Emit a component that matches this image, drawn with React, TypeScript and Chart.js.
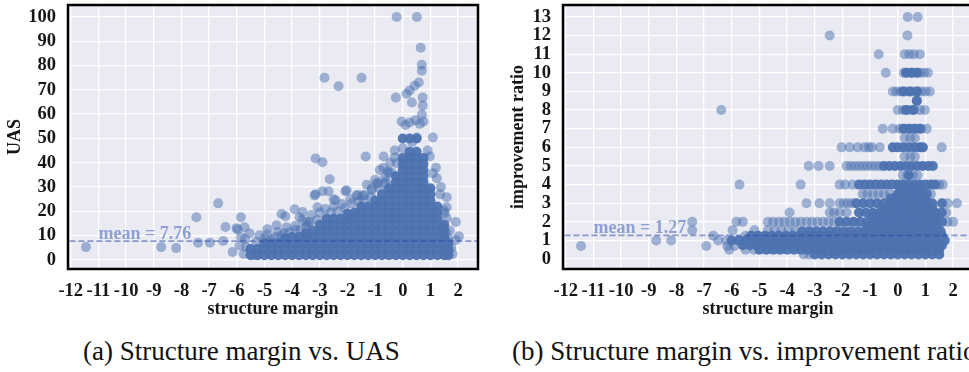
import React, { useEffect, useRef } from "react";
import { Chart, registerables } from "chart.js";

Chart.register(...registerables);

// ---------------- data ----------------
const marginTicks = [-12, -11, -10, -9, -8, -7, -6, -5, -4, -3, -2, -1, 0, 1, 2];
const uasTicks = [0, 10, 20, 30, 40, 50, 60, 70, 80, 90, 100];
const ratioTicks = [0, 1, 2, 3, 4, 5, 6, 7, 8, 9, 10, 11, 12, 13];

const uasMean = 7.76;
const ratioMean = 1.27;

// structure margin vs UAS: scattered (individually visible) points [x, y]
const uasSparse: [number, number][] = [
  [-11.45, 5.3], [-8.73, 5.3], [-8.19, 4.9], [-7.46, 17.6], [-7.4, 7.1], [-6.97, 7.1],
  [-6.67, 23.3], [-6.49, 7.8], [-6.41, 13.6], [-6.15, 3.3], [-6.01, 13.1], [-5.97, 12.6],
  [-5.85, 17.6], [-5.85, 9.4], [-5.72, 13.5], [-5.7, 8.6], [-5.66, 5.3], [-5.54, 11],
  [-5.36, 2], [-5.18, 10.2], [-4.89, 12.7], [-4.56, 14.3], [-4.53, 11.5], [-4.38, 18.9],
  [-4.24, 18], [-4.2, 13.5], [-3.91, 20.9], [-3.88, 12.3], [-3.73, 17.6], [-3.62, 19.7],
  [-3.62, 16.4], [-3.48, 15.6], [-3.37, 15.6], [-3.19, 26.6], [-3.15, 41.8], [-2.9, 40.2],
  [-2.64, 33.2], [-3.15, 27], [-2.9, 28.3], [-2.68, 28.3], [-3.08, 21.7], [-2.5, 25],
  [-2.43, 24.6], [-2.07, 28.3], [-1.85, 23.3], [-1.63, 26.6], [-1.38, 26.6], [-1.12, 28.7],
  [-0.94, 31.6], [-0.65, 34], [-0.51, 36], [-1.34, 42.6], [-0.69, 42.6], [-0.83, 37],
  [-0.54, 36.5], [-2.32, 71.5], [-2.83, 75], [-1.49, 75], [-0.22, 100], [0.51, 100],
  [0.65, 87.3], [0.69, 80.3], [0.69, 77.9], [0.58, 73], [0.43, 71.7], [0.25, 69.7],
  [0.14, 68.4], [-0.25, 66.8], [0.72, 66.8], [0.33, 64.8], [0.72, 63.5], [0.69, 59.8],
  [-0.04, 57], [0.25, 56.6], [0.62, 56], [0.1, 55.5], [0.45, 57.5], [0.75, 57],
  [1.09, 50.4], [0.98, 42.6], [1.09, 35.7], [1.23, 33.6], [1.38, 30], [1.59, 25.8],
  [1.49, 20.5], [1.59, 21.7], [1.92, 15.6], [1.59, 17.2], [1.52, 19.3], [1.45, 13.5],
  [1.56, 11.5], [2.03, 9.8], [1.92, 8.2], [1.63, 9], [-0.29, 45], [-0.29, 42.2],
  [-0.22, 39.8], [0, 46], [0.33, 48.4], [0.51, 50.4], [0.25, 43], [-2.03, 28.7],
  [-1.67, 26.6], [-1.45, 26.6], [-1.12, 29.5], [-0.9, 31.6], [-0.65, 31.6],
  [-5.3, 7.5], [-5, 9], [-4.75, 8.5], [-4.4, 10], [-4.1, 11.5], [-3.9, 14], [-3.5, 13.5],
  [-3.3, 18.5], [-3, 19.5], [-2.8, 21], [-2.5, 22], [-2.2, 23], [-1.9, 25], [-1.3, 31],
  [-1, 33], [-0.7, 38], [-0.45, 40], [0.9, 45], [1.2, 38], [1.35, 27], [1.7, 12],
  [1.75, 5], [1.8, 2.5], [-5.75, 2.5], [-5.9, 6], [-4.9, 10.5], [-4.6, 9.5], [-4.3, 11],
  [-3.7, 12.5], [-3.4, 14.5], [-3.1, 16.5], [-2.6, 19.5], [-2.35, 20], [-2.1, 21.5],
  [-1.6, 24], [-1.4, 24.5], [-1.15, 26], [-0.85, 29.5], [-0.6, 32.5], [-0.4, 36],
];

// dense (saturated) region of the UAS panel: [x, y values at that x]
const uasCoreColumns: [number, number[]][] = [
  [-5.5, [2, 4.5]],
  [-5.25, [2, 4.5]],
  [-5, [2, 4.5, 7]],
  [-4.75, [2, 4.5, 7]],
  [-4.5, [2, 4.5, 7]],
  [-4.25, [2, 4.5, 7, 9]],
  [-4, [2, 4.5, 7, 9.5]],
  [-3.75, [2, 4.5, 7, 9.5]],
  [-3.5, [2, 4.5, 7, 9.5, 11]],
  [-3.25, [2, 4.5, 7, 9.5, 12]],
  [-3, [2, 4.5, 7, 9.5, 12, 14.5]],
  [-2.75, [2, 4.5, 7, 9.5, 12, 14.5, 17]],
  [-2.5, [2, 4.5, 7, 9.5, 12, 14.5, 17]],
  [-2.25, [2, 4.5, 7, 9.5, 12, 14.5, 17]],
  [-2, [2, 4.5, 7, 9.5, 12, 14.5, 17, 19]],
  [-1.75, [2, 4.5, 7, 9.5, 12, 14.5, 17, 19.5]],
  [-1.5, [2, 4.5, 7, 9.5, 12, 14.5, 17, 19.5, 22]],
  [-1.25, [2, 4.5, 7, 9.5, 12, 14.5, 17, 19.5, 22]],
  [-1, [2, 4.5, 7, 9.5, 12, 14.5, 17, 19.5, 22, 24.5]],
  [-0.75, [2, 4.5, 7, 9.5, 12, 14.5, 17, 19.5, 22, 24.5, 27]],
  [-0.5, [2, 4.5, 7, 9.5, 12, 14.5, 17, 19.5, 22, 24.5, 27, 29.5]],
  [-0.25, [2, 4.5, 7, 9.5, 12, 14.5, 17, 19.5, 22, 24.5, 27, 29.5, 32, 34.5]],
  [0, [2, 4.5, 7, 9.5, 12, 14.5, 17, 19.5, 22, 24.5, 27, 29.5, 32, 34.5, 37, 39.5, 42, 50]],
  [0.25, [2, 4.5, 7, 9.5, 12, 14.5, 17, 19.5, 22, 24.5, 27, 29.5, 32, 34.5, 37, 39.5, 42, 44.5, 50]],
  [0.5, [2, 4.5, 7, 9.5, 12, 14.5, 17, 19.5, 22, 24.5, 27, 29.5, 32, 34.5, 37, 39.5, 42, 44.5, 50]],
  [0.75, [2, 4.5, 7, 9.5, 12, 14.5, 17, 19.5, 22, 24.5, 27, 29.5, 32, 34.5, 37, 39.5, 42]],
  [1, [2, 4.5, 7, 9.5, 12, 14.5, 17, 19.5, 22, 24.5, 27, 29.5]],
  [1.25, [2, 4.5, 7, 9.5, 12, 14.5, 17, 19.5, 22]],
  [1.5, [2, 4.5, 7, 9.5, 12, 14.5]],
  [1.65, [2, 4.5, 7]],
];

// structure margin vs improvement ratio: scattered points, grouped by ratio value [y, x values]
const ratioSparseRows: [number, number[]][] = [
  [13, [0.36, 0.72]],
  [12, [-2.46, 0.35]],
  [11, [-0.69, 0.25, 0.42, 0.58, 0.8]],
  [10, [-0.43, 0.22, 0.35, 0.5, 0.65, 0.8, 0.95, 1.09]],
  [9, [-0.18, -0.05, 0.1, 0.25, 0.4, 0.55, 0.7, 0.85, 1.0, 1.16]],
  [8.5, [0.69]],
  [8, [-6.38, 0, 0.2, 0.4, 0.6, 0.8, 0.98]],
  [7, [-0.54, -0.18, 0.07, 0.25, 0.45, 0.65, 0.85, 1.05]],
  [6.5, [0.25, 0.45, 0.62]],
  [6, [-2.03, -1.74, -1.45, -1.2, -1.05, -0.94, -0.65, 1.59]],
  [5.5, [0.25, 0.45, 0.62]],
  [5, [-3.22, -2.86, -2.46, -1.85, -1.7, -1.55, -1.4, -1.25, -1.1, -0.95, -0.8, -0.65]],
  [4.5, [0.18, 0.35, 0.55, 0.72]],
  [4, [-5.72, -3.51, -2.1, -1.9, -1.63, 1.5, 1.63]],
  [3.5, [-1.27, -1.1, -0.9, -0.7, -0.5, -0.29, 1.2]],
  [3, [-3.3, -2.83, -2.46, -2.1, -1.95, -1.8, -1.65, 1.8, 2.14]],
  [2.5, [-3.91, -2.46, -2.3, -2.1, -1.85, 1.75]],
  [2, [-7.43, -5.83, -5.6, -4.7, -4.5, -4.3, -4.1, -3.9, -3.7, -3.5, -3.3, -3.1, -2.9, -2.7, -2.5, -2.3, 1.8, 2.0]],
  [1.55, [-7.43, -5.97, -5.18, -4.7, -4.45, -4.2, -3.95, -3.7]],
  [1.25, [-6.67, -5.5]],
  [1, [-8.73, -8.19, -6.49, -6.2]],
  [0.7, [-11.45, -6.92, -6.16, -5.9]],
  [0.5, [-6.09, -5.5, -5.2]],
  [0.25, [-3.4, -3.2]],
];

// dense (saturated) bands of the ratio panel [y, x values]
const ratioCoreRows: [number, number[]][] = [
  [10, [0.3, 0.5, 0.7]],
  [9, [0.2, 0.45, 0.7]],
  [8.5, [0.69]],
  [8, [0.3, 0.55]],
  [7, [0.2, 0.4, 0.6, 0.8]],
  [6, [-0.18, 0, 0.2, 0.4, 0.6, 0.8, 0.91]],
  [5, [-0.5, -0.3, -0.1, 0.1, 0.3, 0.5, 0.7, 0.9, 1.1, 1.27]],
  [4.5, [0.4]],
  [4, [-1.4, -1.2, -1.0, -0.8, -0.6, -0.4, -0.2, 0, 0.2, 0.4, 0.6, 0.8, 1.0, 1.2, 1.35]],
  [3.75, [0.1, 0.35, 0.6, 0.85]],
  [3.5, [0, 0.2, 0.4, 0.6, 0.8, 1.05]],
  [3.25, [-0.25, 0, 0.25, 0.5, 0.75, 1.0]],
  [3, [-1.5, -1.25, -1.0, -0.75, -0.5, -0.25, 0, 0.25, 0.5, 0.75, 1.0, 1.25, 1.6]],
  [2.75, [-0.5, -0.25, 0, 0.25, 0.5, 0.75, 1.0, 1.25]],
  [2.5, [-1.4, -1.15, -0.9, -0.65, -0.4, -0.15, 0.1, 0.35, 0.6, 0.85, 1.1, 1.35, 1.59]],
  [2.25, [-0.9, -0.65, -0.4, -0.15, 0.1, 0.35, 0.6, 0.85, 1.1, 1.35]],
  [2, [-2.1, -1.85, -1.6, -1.35, -1.1, -0.85, -0.6, -0.35, -0.1, 0.15, 0.4, 0.65, 0.9, 1.15, 1.4, 1.6]],
  [1.75, [-1.1, -0.85, -0.6, -0.35, -0.1, 0.15, 0.4, 0.65, 0.9, 1.15, 1.4]],
  [1.5, [-3.45, -3.2, -2.95, -2.7, -2.45, -2.2, -1.95, -1.7, -1.45, -1.2, -0.95, -0.7, -0.45, -0.2, 0.05, 0.3, 0.55, 0.8, 1.05, 1.3, 1.55]],
  [1.25, [-5.3, -5.05, -4.8, -4.55, -4.3, -4.05, -3.8, -3.55, -3.3, -3.05, -2.8, -2.55, -2.3, -2.05, -1.8, -1.55, -1.3, -1.05, -0.8, -0.55, -0.3, -0.05, 0.2, 0.45, 0.7, 0.95, 1.2, 1.45, 1.6]],
  [1, [-6.0, -5.75, -5.5, -5.25, -5.0, -4.75, -4.5, -4.25, -4.0, -3.75, -3.5, -3.25, -3.0, -2.75, -2.5, -2.25, -2.0, -1.75, -1.5, -1.25, -1.0, -0.75, -0.5, -0.25, 0, 0.25, 0.5, 0.75, 1.0, 1.25, 1.5, 1.7]],
  [0.75, [-5.6, -5.35, -5.1, -4.85, -4.6, -4.35, -4.1, -3.85, -3.6, -3.35, -3.1, -2.85, -2.6, -2.35, -2.1, -1.85, -1.6, -1.35, -1.1, -0.85, -0.6, -0.35, -0.1, 0.15, 0.4, 0.65, 0.9, 1.15, 1.4, 1.6]],
  [0.5, [-5.0, -4.75, -4.5, -4.25, -4.0, -3.75, -3.5, -3.25, -3.0, -2.75, -2.5, -2.25, -2.0, -1.75, -1.5, -1.25, -1.0, -0.75, -0.5, -0.25, 0, 0.25, 0.5, 0.75, 1.0, 1.25, 1.5]],
  [0.25, [-3.0, -2.75, -2.5, -2.25, -2.0, -1.75, -1.5, -1.25, -1.0, -0.75, -0.5, -0.25, 0, 0.25, 0.5, 0.75, 1.0, 1.25, 1.5]],
];

// ---------------- styling ----------------
const FONT = "'Liberation Serif', 'Times New Roman', serif";
const INK = "#161616";
const PT_LIGHT = "rgba(76,114,176,0.5)";
const PT_CORE = "rgba(76,114,176,0.95)";
const MEAN_LINE = "rgba(40,70,165,0.5)";
const MEAN_TEXT = "#8d9fd5";
const TICK_SIZE = 18.5;
const TITLE_SIZE = 18;

type PanelSpec = {
  yMin: number;
  yMax: number;
  yTicks: number[];
  yTitle: string;
  yTitlePad: number;
  mean: number;
  light: { x: number; y: number }[];
  core: { x: number; y: number }[];
};

function buildConfig(spec: PanelSpec): any {
  const bg = {
    id: "bg",
    beforeDraw(chart: any) {
      const { ctx, chartArea: a } = chart;
      ctx.save();
      ctx.fillStyle = "#eaeaf2";
      ctx.fillRect(a.left, a.top, a.right - a.left, a.bottom - a.top);
      ctx.restore();
    },
  };
  const meanLabel = {
    id: "meanLabel",
    afterDatasetsDraw(chart: any) {
      const { ctx, scales } = chart;
      const x = scales.x.getPixelForValue(-11);
      const y = scales.y.getPixelForValue(spec.mean) - 2.5;
      ctx.save();
      ctx.font = `bold 18px ${FONT}`;
      ctx.fillStyle = MEAN_TEXT;
      ctx.textAlign = "left";
      ctx.textBaseline = "alphabetic";
      ctx.fillText(`mean = ${spec.mean.toFixed(2)}`, x, y);
      ctx.restore();
    },
  };
  const frame = {
    id: "frame",
    afterDraw(chart: any) {
      const { ctx, chartArea: a } = chart;
      ctx.save();
      ctx.strokeStyle = "#000";
      ctx.lineWidth = 2.5;
      ctx.strokeRect(a.left, a.top, a.right - a.left, a.bottom - a.top);
      ctx.restore();
    },
  };

  return {
    type: "scatter",
    data: {
      datasets: [
        {
          label: "mean",
          data: [
            { x: -14, y: spec.mean },
            { x: 4, y: spec.mean },
          ],
          showLine: true,
          borderColor: MEAN_LINE,
          borderWidth: 1.8,
          borderDash: [6, 3],
          pointRadius: 0,
          fill: false,
        },
        {
          label: "core",
          data: spec.core,
          backgroundColor: PT_CORE,
          borderWidth: 0,
          pointRadius: 5,
          pointHoverRadius: 5,
        },
        {
          label: "points",
          data: spec.light,
          backgroundColor: PT_LIGHT,
          borderWidth: 0,
          pointRadius: 5,
          pointHoverRadius: 5,
        },
      ],
    },
    options: {
      animation: false,
      responsive: false,
      devicePixelRatio: 1,
      events: [],
      layout: { padding: { top: 4, right: 17, left: 0, bottom: 0 } },
      plugins: { legend: { display: false }, tooltip: { enabled: false } },
      scales: {
        x: {
          type: "linear",
          min: -12.1,
          max: 2.72,
          afterBuildTicks: (s: any) => {
            s.ticks = marginTicks.map((v) => ({ value: v }));
          },
          afterFit: (s: any) => {
            s.height = 56;
            s.paddingLeft = 0;
            s.paddingRight = 0;
          },
          grid: { color: "#ffffff", lineWidth: 1.3, drawTicks: false },
          border: { display: false },
          ticks: {
            autoSkip: false,
            maxRotation: 0,
            padding: 11,
            color: INK,
            font: { family: FONT, size: TICK_SIZE, weight: "bold" },
            callback: (v: any) => String(v),
          },
          title: {
            display: true,
            text: "structure margin",
            color: INK,
            font: { family: FONT, size: TITLE_SIZE, weight: "bold" },
            padding: { top: 0, bottom: 4.5 },
          },
        },
        y: {
          type: "linear",
          min: spec.yMin,
          max: spec.yMax,
          afterBuildTicks: (s: any) => {
            s.ticks = spec.yTicks.map((v) => ({ value: v }));
          },
          afterFit: (s: any) => {
            s.width = 68;
            s.paddingTop = 0;
            s.paddingBottom = 0;
          },
          grid: { color: "#ffffff", lineWidth: 1.3, drawTicks: false },
          border: { display: false },
          ticks: {
            autoSkip: false,
            padding: 12,
            color: INK,
            font: { family: FONT, size: TICK_SIZE, weight: "bold" },
            callback: (v: any) => String(v),
          },
          title: {
            display: true,
            text: spec.yTitle,
            color: INK,
            font: { family: FONT, size: TITLE_SIZE, weight: "bold" },
            padding: { top: spec.yTitlePad, bottom: 0 },
          },
        },
      },
    },
    plugins: [bg, meanLabel, frame],
  };
}

function Panel({ spec, left }: { spec: PanelSpec; left: number }) {
  const ref = useRef<HTMLCanvasElement | null>(null);
  useEffect(() => {
    if (!ref.current) return;
    const chart = new Chart(ref.current, buildConfig(spec));
    return () => chart.destroy();
  }, []);
  return (
    <canvas
      ref={ref}
      width={495}
      height={325}
      style={{ position: "absolute", left, top: 0, width: 495, height: 325 }}
    />
  );
}

const uasSpec: PanelSpec = {
  yMin: -3.7,
  yMax: 104.9,
  yTicks: uasTicks,
  yTitle: "UAS",
  yTitlePad: 4.5,
  mean: uasMean,
  light: uasSparse.map(([x, y]) => ({ x, y })),
  core: uasCoreColumns.flatMap(([x, ys]) => ys.map((y) => ({ x, y }))),
};

const ratioSpec: PanelSpec = {
  yMin: -0.53,
  yMax: 13.64,
  yTicks: ratioTicks,
  yTitle: "improvement ratio",
  yTitlePad: 12.5,
  mean: ratioMean,
  light: ratioSparseRows.flatMap(([y, xs]) => xs.map((x) => ({ x, y }))),
  core: ratioCoreRows.flatMap(([y, xs]) => xs.map((x) => ({ x, y }))),
};

const captionStyle: React.CSSProperties = {
  position: "absolute",
  top: 336,
  fontFamily: FONT,
  fontSize: 27,
  lineHeight: "30px",
  color: "#111",
  whiteSpace: "nowrap",
};

export default function App() {
  return (
    <div
      style={{
        position: "fixed",
        left: 0,
        top: 0,
        width: 969,
        height: 372,
        background: "#ffffff",
        overflow: "hidden",
      }}
    >
      <Panel spec={uasSpec} left={0} />
      <Panel spec={ratioSpec} left={495} />
      <div style={{ ...captionStyle, left: 83 }}>(a) Structure margin vs. UAS</div>
      <div style={{ ...captionStyle, left: 512 }}>(b) Structure margin vs. improvement ratio</div>
    </div>
  );
}
